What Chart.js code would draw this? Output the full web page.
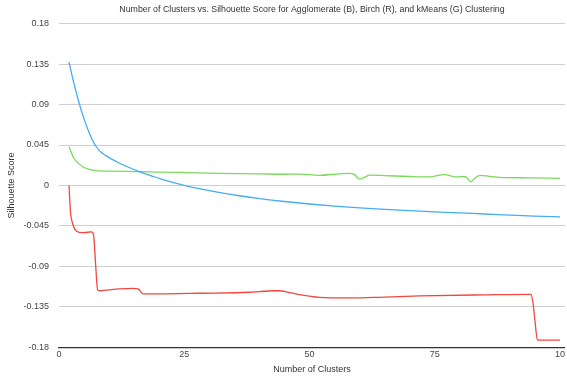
<!DOCTYPE html>
<html>
<head>
<meta charset="utf-8">
<script src="https://cdn.jsdelivr.net/npm/chart.js@4/dist/chart.umd.min.js"></script>
<style>
  html, body { margin: 0; padding: 0; background: #fff; }
  #wrap { width: 567px; height: 381px; }
</style>
</head>
<body>
<div id="wrap"><canvas id="c" width="567" height="381"></canvas></div>
<script>
// Silhouette score by number of clusters, one series per clustering method
const agglomerateX = [2, 3, 4, 5, 6, 7, 8, 9, 10, 12, 14, 16, 18, 20, 22, 24, 26, 28, 30, 33, 36, 40, 45, 50, 55, 60, 65, 70, 75, 80, 85, 90, 95, 100];
const agglomerateY = [0.137, 0.113, 0.092, 0.074, 0.059, 0.047, 0.039, 0.0345, 0.031, 0.025, 0.020, 0.0155, 0.0115, 0.008, 0.0045, 0.0015, -0.0012, -0.0036, -0.0058, -0.0088, -0.0114, -0.0145, -0.0178, -0.0206, -0.023, -0.025, -0.0266, -0.028, -0.0293, -0.0305, -0.0317, -0.0329, -0.034, -0.035];

const birchX = [2, 2.3, 2.7, 3.2, 4, 5, 6.5, 6.9, 7.3, 7.7, 8.2, 10, 12, 14.8, 15.8, 16.8, 20, 28, 38, 40, 42.6, 44, 46, 48, 52, 58, 65, 72, 85, 94.2, 94.6, 95, 95.5, 100];
const birchY = [0.0, -0.030, -0.042, -0.049, -0.052, -0.0525, -0.0515, -0.055, -0.087, -0.116, -0.117, -0.116, -0.115, -0.1143, -0.115, -0.1205, -0.1205, -0.1198, -0.1187, -0.118, -0.117, -0.117, -0.119, -0.1213, -0.1243, -0.125, -0.124, -0.1228, -0.1216, -0.121, -0.13, -0.150, -0.172, -0.172];

const kmeansX = [2, 3, 4, 5, 6, 7, 8, 10, 16, 24, 32, 40, 45, 48, 52, 56, 58, 59, 60, 61, 62, 65, 70, 74, 76, 77, 78, 79.5, 81, 81.5, 82.2, 83, 84, 86, 88, 94, 100];
const kmeansY = [0.043, 0.030, 0.024, 0.020, 0.018, 0.0168, 0.0163, 0.016, 0.0153, 0.0145, 0.0135, 0.013, 0.0125, 0.0127, 0.0113, 0.013, 0.0135, 0.012, 0.007, 0.009, 0.0115, 0.011, 0.010, 0.0095, 0.0115, 0.0124, 0.011, 0.0095, 0.010, 0.008, 0.004, 0.008, 0.0113, 0.010, 0.009, 0.0085, 0.008];

const xTickValues = [0, 25, 50, 75, 100];
const xTickLabels = ['0', '25', '50', '75', '10'];
const yTickValues = [0.18, 0.135, 0.09, 0.045, 0, -0.045, -0.09, -0.135, -0.18];
const yTickLabels = ['0.18', '0.135', '0.09', '0.045', '0', '-0.045', '-0.09', '-0.135', '-0.18'];

const toPoints = (xs, ys) => xs.map((x, i) => ({ x: x, y: ys[i] }));

const FONT = '"Liberation Sans", Arial, Helvetica, sans-serif';

function lineSet(label, xs, ys, color) {
  return {
    label: label,
    data: toPoints(xs, ys),
    borderColor: color,
    backgroundColor: color,
    borderWidth: 1.3,
    pointRadius: 0,
    fill: false,
    cubicInterpolationMode: 'monotone'
  };
}

new Chart(document.getElementById('c'), {
  type: 'line',
  data: {
    datasets: [
      lineSet('Agglomerate', agglomerateX, agglomerateY, '#45acf5'),
      lineSet('Birch', birchX, birchY, '#f2473d'),
      lineSet('kMeans', kmeansX, kmeansY, '#7bd95c')
    ]
  },
  options: {
    responsive: false,
    animation: false,
    layout: { padding: { top: 2, right: 0, left: 4, bottom: 6 } },
    plugins: {
      legend: { display: false },
      tooltip: { enabled: false },
      title: {
        display: true,
        fullSize: false,
        text: 'Number of Clusters vs. Silhouette Score for Agglomerate (B), Birch (R), and kMeans (G) Clustering',
        color: '#333',
        font: { family: FONT, size: 8.8, weight: 'normal' },
        padding: { top: 2, bottom: 9 }
      }
    },
    scales: {
      x: {
        type: 'linear',
        min: 0,
        max: 101,
        afterBuildTicks: (axis) => { axis.ticks = xTickValues.map(v => ({ value: v })); },
        ticks: {
          color: '#444',
          font: { family: FONT, size: 9 },
          padding: 2,
          maxRotation: 0,
          callback: (value) => xTickLabels[xTickValues.indexOf(value)]
        },
        grid: { display: false, drawTicks: false },
        border: { display: true, color: '#333', width: 1.2 },
        title: {
          display: true,
          text: 'Number of Clusters',
          color: '#333',
          font: { family: FONT, size: 9 },
          padding: { top: 2, bottom: 0 }
        }
      },
      y: {
        type: 'linear',
        min: -0.18,
        max: 0.18,
        afterBuildTicks: (axis) => { axis.ticks = yTickValues.map(v => ({ value: v })); },
        afterFit: (axis) => { axis.width = 55; },
        ticks: {
          color: '#444',
          font: { family: FONT, size: 9 },
          padding: 10,
          callback: (value) => {
            const i = yTickValues.findIndex(v => Math.abs(v - value) < 1e-9);
            return i >= 0 ? yTickLabels[i] : '';
          }
        },
        grid: { color: '#cfcfcf', lineWidth: 1, drawTicks: false },
        border: { display: false },
        title: {
          display: true,
          text: 'Silhouette Score',
          color: '#333',
          font: { family: FONT, size: 9 },
          padding: { top: 2, bottom: 0 }
        }
      }
    }
  }
});
</script>
</body>
</html>
